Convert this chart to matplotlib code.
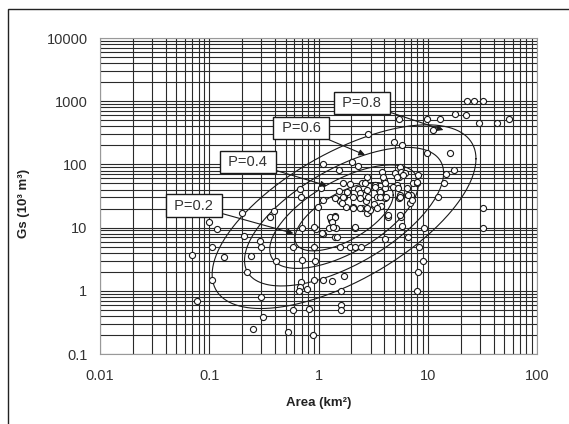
import numpy as np
import matplotlib
matplotlib.use("Agg")
import matplotlib.pyplot as plt
from matplotlib.patches import Rectangle

plt.rcParams['font.family'] = ['Liberation Sans', 'DejaVu Sans']

# observed catchments: area (km2) and sediment volume Gs (10^3 m3)
area = [0.069, 0.078, 0.099, 0.118, 0.107, 0.136, 0.107, 0.20, 0.21, 0.24,
        0.22, 0.29, 0.30, 0.30, 0.31, 0.25, 0.36, 0.39, 0.405, 0.53,
        0.58, 0.58, 0.68, 0.69, 0.71, 0.71, 0.69, 0.68, 0.66, 0.785,
        0.82, 0.89, 0.91, 0.92, 0.91, 1.1, 0.95, 0.98, 1.05, 1.09,
        1.1, 1.1, 1.32, 1.26, 1.29, 1.39, 1.43, 1.45, 1.43, 1.54,
        1.57, 1.61, 1.6, 1.61, 1.72, 1.55, 1.66, 1.72, 1.57, 1.79,
        1.94, 2.03, 2.32, 2.08, 1.93, 2.14, 2.43, 2.14, 2.08, 2.29,
        2.48, 2.6, 2.72, 2.48, 2.76, 2.86, 2.8, 2.96, 3.22, 3.3,
        3.4, 3.6, 3.78, 3.97, 4.1, 3.8, 4.1, 3.7, 4.35, 4.06,
        4.88, 5.85, 5.45, 5.0, 5.2, 5.5, 5.57, 5.7, 6.2, 6.4,
        5.6, 5.4, 5.7, 5.8, 6.6, 6.9, 7.1, 7.4, 8.0, 8.2,
        8.4, 8.2, 8.0, 9.1, 9.2, 9.8, 9.8, 11.1, 12.9, 12.3,
        14.1, 14.6, 16.0, 17.5, 17.8, 22.4, 23.0, 26.4, 31.8, 29.7,
        31.8, 31.8, 43.4, 55.4,
        1.81, 1.69, 1.42, 1.63, 2.40, 2.80, 2.67, 3.29, 3.66, 2.40,
        2.86, 3.66, 4.15, 2.05, 2.40, 2.80, 3.41, 3.92, 4.06, 5.20,
        5.98, 4.84, 5.38, 5.57, 6.64, 7.13, 7.92, 4.36, 5.57, 1.07,
        0.90, 1.27, 1.42, 1.32, 1.37, 1.47, 2.16]
gs = [3.7, 0.69, 12.4, 9.4, 5.0, 3.4, 1.5, 16.8, 7.4, 3.5,
      2.0, 6.1, 5.0, 0.81, 0.39, 0.25, 14.9, 18.3, 3.0, 0.22,
      0.50, 5.0, 40.8, 30, 9.7, 3.1, 1.4, 1.16, 1.0, 1.08,
      0.51, 0.20, 5.0, 3.0, 1.5, 1.5, 9.4, 21, 42, 101,
      27, 7.8, 1.45, 9.7, 13.2, 14.5, 15.2, 9.7, 7.0, 81,
      5.0, 1.0, 0.60, 0.50, 1.7, 38, 50, 30, 26, 21,
      49, 110, 95, 21, 5.0, 5.0, 5.0, 9.7, 31, 41,
      50, 33, 26, 20.7, 64, 303, 16.8, 19, 23.6, 47,
      31, 40, 77, 57, 42, 30, 29, 21.6, 14.9, 6.5,
      229, 203, 522, 72, 47, 64, 92, 77, 72, 42,
      33, 29, 14.9, 10.5, 7.2, 24.8, 33, 50, 50, 68,
      5.0, 2.0, 1.0, 3.0, 9.7, 522, 153, 350, 522, 31,
      50, 70, 153, 81, 627, 606, 1019, 990, 990, 447,
      20.2, 9.7, 447, 522,
      37.0, 30.1, 29.0, 24.2, 34.9, 39.4, 50.2, 44.4, 37.0, 29.0,
      30.8, 30.8, 30.8, 20.2, 20.2, 20.2, 20.2, 64.0, 50.2, 64.0,
      67.9, 44.4, 41.8, 30.8, 32.8, 27.3, 53.3, 15.8, 15.8, 8.1,
      10.4, 14.9, 14.9, 12.4, 10.4, 7.2, 10.4]

# bivariate lognormal fit (log10 space)
mean_log = (0.234, 1.173)
std_log = (0.673, 0.81)
rho = 0.63
probs = [0.2, 0.4, 0.6, 0.8]

# label boxes (centre) and arrow targets
label_pos = [(0.0724, 22.2), (0.226, 109), (0.692, 377), (2.50, 937)]
arrow_tip = [(0.589, 8.1), (1.19, 46), (2.67, 141), (13.9, 350)]

fig = plt.figure(figsize=(5.69, 4.24), dpi=100)
fig.patches.append(Rectangle((8 / 569, -0.1), 1.2, 1 - 9 / 424 + 0.1,
                             transform=fig.transFigure, fill=False,
                             edgecolor='#222222', linewidth=1.0))
ax = fig.add_axes([100 / 569, 1 - 354 / 424, 437 / 569, 316 / 424])
ax.set_xscale('log')
ax.set_yscale('log')
ax.set_xlim(0.01, 100)
ax.set_ylim(0.1, 10000)

ax.grid(True, which='both', color='#2a2a2a', linewidth=0.8)
ax.set_axisbelow(True)
for s in ax.spines.values():
    s.set_color('#999999')
    s.set_linewidth(0.8)

ax.set_xticks([0.01, 0.1, 1, 10, 100])
ax.set_xticklabels(['0.01', '0.1', '1', '10', '100'])
ax.set_yticks([0.1, 1, 10, 100, 1000, 10000])
ax.set_yticklabels(['0.1', '1', '10', '100', '1000', '10000'])
ax.tick_params(axis='both', which='both', length=0, labelsize=10.5,
               labelcolor='#333333')
ax.tick_params(axis='x', pad=11)
ax.tick_params(axis='y', pad=9)

# probability ellipses
t = np.linspace(0, 2 * np.pi, 400)
for p in probs:
    k = np.sqrt(-2 * np.log(1 - p))
    u = np.cos(t)
    v = rho * np.cos(t) + np.sqrt(1 - rho ** 2) * np.sin(t)
    lx = mean_log[0] + k * std_log[0] * u
    ly = mean_log[1] + k * std_log[1] * v
    ax.plot(10 ** lx, 10 ** ly, color='#1a1a1a', linewidth=0.8, zorder=3)

ax.plot(area, gs, linestyle='none', marker='o', markersize=4.4,
        markerfacecolor='white', markeredgecolor='#1a1a1a',
        markeredgewidth=0.8, zorder=4)

for p, pos, tip in zip(probs, label_pos, arrow_tip):
    ax.annotate(' P=%.1f ' % p, xy=tip, xytext=pos, fontsize=10.5,
                color='#333333', ha='center', va='center', zorder=6,
                bbox=dict(boxstyle='square,pad=0.3', facecolor='white',
                          edgecolor='#1a1a1a', linewidth=1.0),
                arrowprops=dict(arrowstyle='-|>', color='#1a1a1a', lw=0.8,
                                mutation_scale=9, shrinkA=0, shrinkB=0))

ax.set_xlabel('Area (km²)', fontsize=9.5, fontweight='bold', color='#222222')
ax.set_ylabel('Gs (10³ m³)', fontsize=9.5, fontweight='bold', color='#222222')
ax.xaxis.set_label_coords(0.5, -0.135)
ax.yaxis.set_label_coords(-0.16, 0.478)

fig.savefig('out.png', dpi=100)
